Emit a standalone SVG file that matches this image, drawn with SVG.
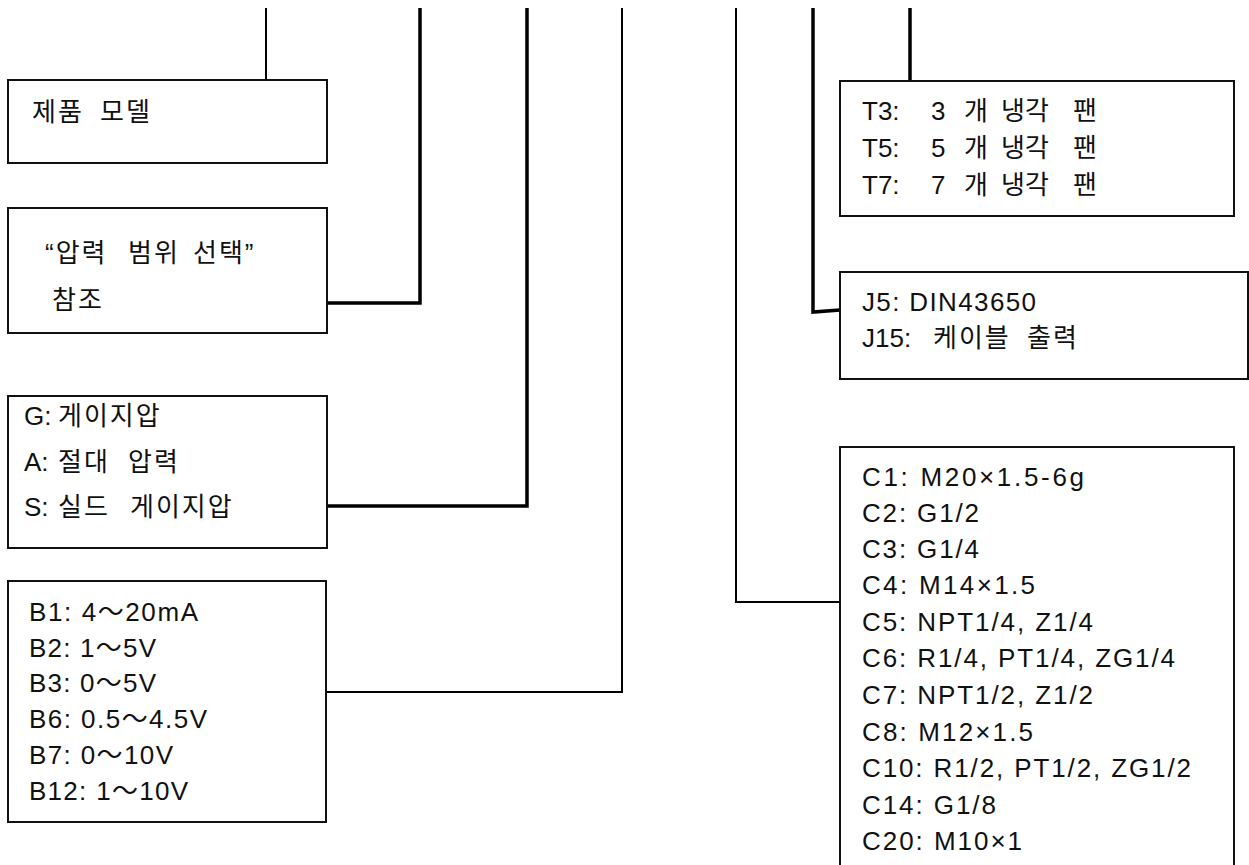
<svg xmlns="http://www.w3.org/2000/svg" width="1249" height="865" viewBox="0 0 1249 865">
<style>
.box{fill:#fff;stroke:#111;stroke-width:2}
.thin{fill:none;stroke:#000;stroke-width:2}
.thick{fill:none;stroke:#000;stroke-width:3.5}
text{font-family:"Liberation Sans","Noto Sans CJK KR",sans-serif;font-size:26px;fill:#111}
.ko{letter-spacing:2px}
</style>
<rect width="1249" height="865" fill="#fff"/>
<g id="connectors">
<polyline class="thin" points="266,8 266,80"/>
<polyline class="thick" points="420,8 420,303 327,303"/>
<polyline class="thick" points="527,8 527,506 327,506"/>
<polyline class="thin" points="622,8 622,692 327,692"/>
<polyline class="thin" points="736,8 736,602 840,602"/>
<polyline class="thick" points="813,8 813,312 840,310"/>
<polyline class="thick" points="910,8 910,81"/>
</g>
<g id="model">
<rect class="box" x="8" y="80" width="319" height="83"/>
<text y="121" class="ko"><tspan x="32">제품</tspan> <tspan x="100">모델</tspan></text>
</g>
<g id="range">
<rect class="box" x="8" y="208" width="319" height="125"/>
<text y="262" class="ko"><tspan x="45">“압력</tspan> <tspan x="128">범위</tspan> <tspan x="193">선택”</tspan></text>
<text x="52" y="309" class="ko">참조</text>
</g>
<g id="type">
<rect class="box" x="8" y="396" width="319" height="152"/>
<text y="425"><tspan x="24">G:</tspan> <tspan x="58" class="ko">게이지압</tspan></text>
<text y="471"><tspan x="24">A:</tspan> <tspan x="58" class="ko">절대</tspan> <tspan x="128" class="ko">압력</tspan></text>
<text y="516"><tspan x="24">S:</tspan> <tspan x="58" class="ko">실드</tspan> <tspan x="130" class="ko">게이지압</tspan></text>
</g>
<g id="output">
<rect class="box" x="8" y="581" width="318" height="241"/>
<text x="29" y="621" textLength="169" lengthAdjust="spacing">B1: 4～20mA</text>
<text x="29" y="656.5" textLength="127" lengthAdjust="spacing">B2: 1～5V</text>
<text x="29" y="692" textLength="127" lengthAdjust="spacing">B3: 0～5V</text>
<text x="29" y="728" textLength="178" lengthAdjust="spacing">B6: 0.5～4.5V</text>
<text x="29" y="764" textLength="144" lengthAdjust="spacing">B7: 0～10V</text>
<text x="29" y="800" textLength="159" lengthAdjust="spacing">B12: 1～10V</text>
</g>
<g id="fans">
<rect class="box" x="840" y="81" width="394" height="135"/>
<text y="120"><tspan x="862">T3:</tspan> <tspan x="931">3</tspan> <tspan x="964">개</tspan> <tspan x="1001">냉각</tspan> <tspan x="1073">팬</tspan></text>
<text y="157"><tspan x="862">T5:</tspan> <tspan x="931">5</tspan> <tspan x="964">개</tspan> <tspan x="1001">냉각</tspan> <tspan x="1073">팬</tspan></text>
<text y="194"><tspan x="862">T7:</tspan> <tspan x="931">7</tspan> <tspan x="964">개</tspan> <tspan x="1001">냉각</tspan> <tspan x="1073">팬</tspan></text>
</g>
<g id="connector-type">
<rect class="box" x="840" y="272" width="408" height="107"/>
<text x="862" y="311" textLength="174" lengthAdjust="spacing">J5: DIN43650</text>
<text y="347"><tspan x="862">J15:</tspan> <tspan x="933" class="ko">케이블</tspan> <tspan x="1027" class="ko">출력</tspan></text>
</g>
<g id="thread">
<rect class="box" x="840" y="447" width="394" height="440"/>
<text x="862" y="486" textLength="222" lengthAdjust="spacing">C1: M20×1.5-6g</text>
<text x="862" y="522" textLength="117" lengthAdjust="spacing">C2: G1/2</text>
<text x="862" y="558" textLength="117" lengthAdjust="spacing">C3: G1/4</text>
<text x="862" y="594" textLength="173" lengthAdjust="spacing">C4: M14×1.5</text>
<text x="862" y="631" textLength="231" lengthAdjust="spacing">C5: NPT1/4, Z1/4</text>
<text x="862" y="667" textLength="313" lengthAdjust="spacing">C6: R1/4, PT1/4, ZG1/4</text>
<text x="862" y="704" textLength="231" lengthAdjust="spacing">C7: NPT1/2, Z1/2</text>
<text x="862" y="741" textLength="171" lengthAdjust="spacing">C8: M12×1.5</text>
<text x="862" y="777" textLength="329" lengthAdjust="spacing">C10: R1/2, PT1/2, ZG1/2</text>
<text x="862" y="814" textLength="134" lengthAdjust="spacing">C14: G1/8</text>
<text x="862" y="850" textLength="160" lengthAdjust="spacing">C20: M10×1</text>
</g>
</svg>
